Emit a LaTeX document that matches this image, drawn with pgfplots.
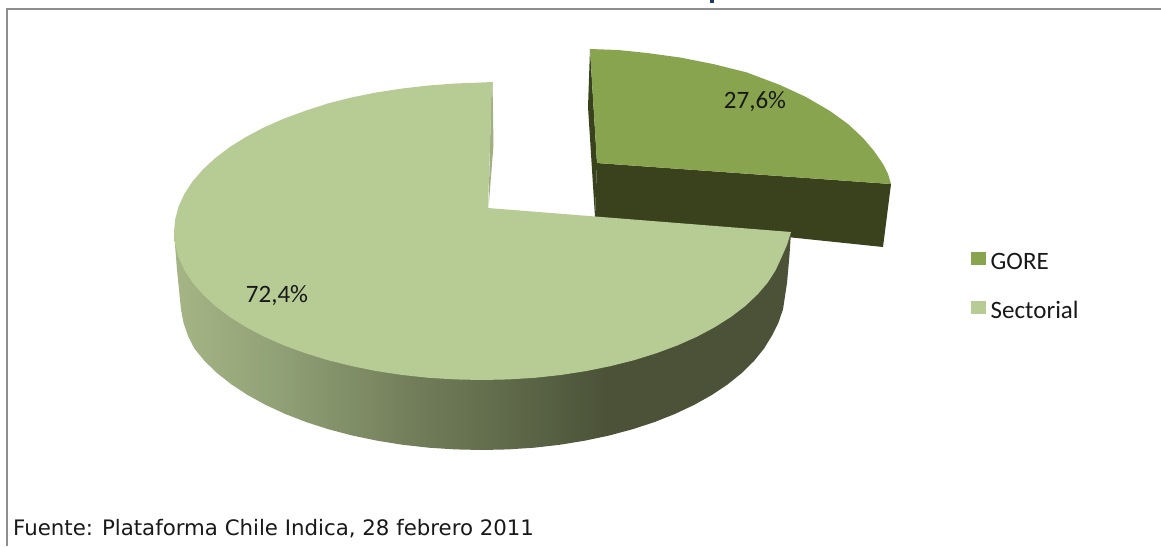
\documentclass[border=0pt]{standalone}
\usepackage{fontspec}
\setmainfont{Carlito}
\newfontfamily\footfont{DejaVu Sans}
\usepackage{pgfplots}
\pgfplotsset{compat=1.18}
\definecolor{goretop}{HTML}{88A44E}
\definecolor{goredark}{HTML}{39421D}
\definecolor{sectop}{HTML}{B7CC94}
\definecolor{secedge}{HTML}{A0B083}
\definecolor{framegray}{HTML}{8E8E8E}
\definecolor{titleblue}{HTML}{1F3864}
\definecolor{wallA}{HTML}{A5B585}
\definecolor{wallB}{HTML}{92A277}
\definecolor{wallC}{HTML}{737F5B}
\definecolor{wallD}{HTML}{5F6A4A}
\definecolor{wallE}{HTML}{4B5238}
\pgfdeclarehorizontalshading{wallshade}{100bp}{
  color(0bp)=(wallA);
  color(25bp)=(wallA);
  color(33bp)=(wallB);
  color(44bp)=(wallC);
  color(52bp)=(wallD);
  color(60bp)=(wallE);
  color(100bp)=(wallE)
}
\begin{document}
\begin{tikzpicture}
\begin{axis}[
  scale only axis,
  width=1161pt, height=546pt,
  xmin=0, xmax=1161, ymin=0, ymax=546,
  y dir=reverse,
  axis lines=none,
  enlargelimits=false,
]
% keeps the page at the full size, axis lines=none shrinks it otherwise
\path (axis cs:0,0) rectangle (axis cs:1161,546);
% frame of the chart area
\addplot[draw=framegray, line width=1.4pt] coordinates {(7,546) (7,9) (1161,9)};
% foot of the cut-off title
\addplot[fill=titleblue, draw=none] coordinates {(710,0) (714,0) (714,3) (710,3)} -- cycle;

% GORE slice, pulled out
\addplot[fill=goredark, draw=none] coordinates {(597,163) (891,184) (883,247) (595,217)} -- cycle;
\addplot[fill=goredark, draw=none] coordinates {(590,49) (588,107) (595,217) (597,163)} -- cycle;
\addplot[fill=goretop, draw=none] coordinates {
  (597,163) (590,49) (618,50) (647,53) (680,57.5) (713,64) (747,72.5) (780,85) (806,97)
  (830,111) (848,124) (863,138) (874,151) (883,164) (888,174) (891,184)
} -- cycle;

% Sectorial slice, side wall
\addplot[shading=wallshade, draw=none] coordinates {
  (791,232) (789.5,255) (787,283) (783,309.4) (778.4,322.7) (771.8,335.9) (763.9,348.7)
  (753.9,361.1) (741.8,373) (727.8,384.3) (711.8,395) (694.1,404.9) (674.8,414)
  (654.1,422.2) (632,429.4) (608.8,435.6) (584.6,440.7) (559.6,444.8) (534.1,447.7)
  (508.1,449.4) (482,450) (455.3,449.4) (428.9,447.7) (402.8,444.8) (377.3,440.7)
  (352.7,435.6) (329,429.4) (306.5,422.2) (285.3,414) (265.6,404.9) (247.6,395)
  (231.3,384.3) (217,373) (204.7,361.1) (194.5,348.7) (188,335.9) (183.5,322.7)
  (181,309.4) (177,270) (174,232)
} -- cycle;
\addplot[fill=secedge, draw=none] coordinates {(491.5,82) (492.5,82) (493.5,145) (488.5,208)} -- cycle;
% Sectorial slice, top
\addplot[fill=sectop, draw=none] coordinates {
  (488,208) (791,232) (787,245) (781.4,257.7) (775.6,270.3) (767.7,282.6) (757.5,294.5)
  (745.3,306) (731,316.9) (714.9,327.1) (697,336.7) (677.4,345.4) (656.4,353.2)
  (634,360.2) (610.5,366.1) (586,371.1) (560.7,375) (534.8,377.8) (508.5,379.4)
  (482,380) (455.1,379.4) (428.5,377.8) (402.3,375) (376.7,371.1) (351.8,366.1)
  (328,360.2) (305.3,353.2) (284,345.4) (264.2,336.7) (246.1,327.1) (229.7,316.9)
  (215.3,306) (202.9,294.5) (192.6,282.6) (184.5,270.3) (178.7,257.7) (175.2,244.9)
  (174,232) (175.2,219.1) (178.7,206.3) (184.5,193.7) (192.6,181.4) (202.9,169.5)
  (215.3,158) (229.7,147.1) (246.1,136.9) (264.2,127.3) (284,118.6) (305.3,110.8)
  (328,103.4) (351.8,97.4) (376.7,92.4) (402.3,88.5) (428.5,85.5) (455.1,83.5)
  (482,82.5) (492,82)
} -- cycle;

% legend keys
\addplot[fill=goretop, draw=none] coordinates {(971,252) (986,252) (986,265) (971,265)} -- cycle;
\addplot[fill=sectop, draw=none] coordinates {(971,301) (986,301) (986,314) (971,314)} -- cycle;

\node[font=\fontsize{25}{25}\selectfont, text=black!90] at (axis cs:755,101.5) {27,6\%};
\node[font=\fontsize{25}{25}\selectfont, text=black!90] at (axis cs:277,295.5) {72,4\%};
\node[font=\fontsize{25}{25}\selectfont, text=black!90, anchor=west, inner sep=0pt] at (axis cs:990.5,261) {GORE};
\node[font=\fontsize{25}{25}\selectfont, text=black!90, anchor=west, inner sep=0pt] at (axis cs:990.5,310) {Sectorial};
\node[font=\footfont\fontsize{21.3}{22}\selectfont, text=black!90, anchor=west, inner sep=0pt] at (axis cs:13,529) {Fuente: Plataforma Chile Indica, 28 febrero 2011};
\end{axis}
\end{tikzpicture}
\end{document}
